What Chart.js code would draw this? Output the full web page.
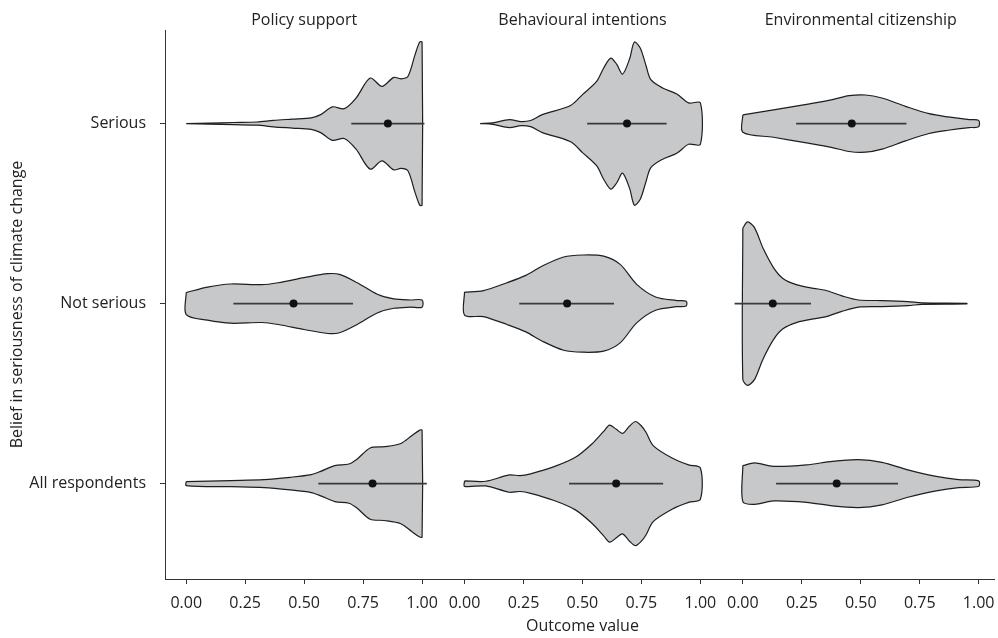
<!DOCTYPE html>
<html>
<head>
<meta charset="utf-8">
<script src="https://cdn.jsdelivr.net/npm/chart.js@4.4.1/dist/chart.umd.min.js"></script>
<style>
  html, body { margin: 0; padding: 0; background: #fff; }
  #wrap { width: 998px; height: 638px; position: relative; }
</style>
</head>
<body>
<div id="wrap"><canvas id="violinChart"></canvas></div>
<script>
// facets and groups
const panels = ['Policy support', 'Behavioural intentions', 'Environmental citizenship'];
const groups = ['Serious', 'Not serious', 'All respondents'];
const xTicks = [0, 0.25, 0.5, 0.75, 1];

// violin outlines: [outcome value, half width of the density]
const policySerious = [[0.00,0],[0.10,0.003],[0.20,0.006],[0.30,0.009],[0.37,0.018],[0.45,0.025],[0.53,0.032],[0.57,0.05],[0.62,0.093],[0.67,0.083],[0.72,0.142],[0.78,0.253],[0.83,0.207],[0.88,0.257],[0.91,0.249],[0.94,0.262],[0.97,0.382],[0.99,0.453],[1.00,0.453]];
const policyNotSerious = [[0.00,0.061],[0.09,0.092],[0.19,0.109],[0.32,0.105],[0.39,0.116],[0.50,0.144],[0.60,0.166],[0.65,0.162],[0.725,0.116],[0.81,0.052],[0.88,0.026],[0.95,0.02],[1.00,0.02]];
const policyAll = [[0.00,0.011],[0.19,0.017],[0.33,0.022],[0.44,0.035],[0.53,0.05],[0.57,0.068],[0.63,0.1],[0.69,0.109],[0.725,0.137],[0.78,0.198],[0.84,0.205],[0.91,0.223],[0.956,0.266],[0.99,0.297],[1.00,0.297]];

const behavSerious = [[0.066,0],[0.12,0.004],[0.19,0.022],[0.24,0.011],[0.28,0.017],[0.33,0.05],[0.45,0.101],[0.50,0.161],[0.56,0.234],[0.59,0.309],[0.62,0.364],[0.645,0.33],[0.67,0.275],[0.70,0.36],[0.72,0.453],[0.745,0.42],[0.77,0.32],[0.79,0.244],[0.84,0.198],[0.90,0.165],[0.95,0.115],[1.00,0.115]];
const behavNotSerious = [[0.00,0.064],[0.08,0.072],[0.18,0.116],[0.26,0.157],[0.33,0.209],[0.42,0.259],[0.50,0.27],[0.59,0.264],[0.66,0.218],[0.73,0.107],[0.81,0.037],[0.90,0.017],[0.94,0.013]];
const behavAll = [[0.00,0.015],[0.09,0.013],[0.19,0.048],[0.235,0.044],[0.28,0.054],[0.38,0.094],[0.47,0.146],[0.54,0.22],[0.59,0.29],[0.615,0.325],[0.645,0.3],[0.67,0.279],[0.70,0.32],[0.725,0.345],[0.75,0.32],[0.77,0.284],[0.80,0.211],[0.88,0.142],[0.95,0.104],[1.00,0.087]];

const envSerious = [[0.00,0.048],[0.13,0.076],[0.27,0.107],[0.38,0.133],[0.45,0.155],[0.52,0.159],[0.59,0.142],[0.69,0.096],[0.79,0.055],[0.87,0.037],[0.96,0.022],[1.00,0.018]];
const envNotSerious = [[0.00,0.42],[0.02,0.454],[0.05,0.421],[0.085,0.31],[0.13,0.2],[0.17,0.14],[0.23,0.104],[0.30,0.085],[0.35,0.074],[0.42,0.043],[0.49,0.02],[0.59,0.017],[0.70,0.011],[0.76,0.004],[0.95,0.002]];
const envAll = [[0.00,0.1],[0.05,0.115],[0.13,0.096],[0.27,0.104],[0.38,0.124],[0.49,0.133],[0.59,0.118],[0.70,0.076],[0.82,0.04],[0.915,0.022],[1.00,0.015]];

// medians and interval ends (Serious, Not serious, All respondents)
const policyMedian = [0.855, 0.455, 0.79];
const policyLow = [0.70, 0.20, 0.56];
const policyHigh = [1.01, 0.707, 1.02];
const behavMedian = [0.689, 0.435, 0.643];
const behavLow = [0.52, 0.232, 0.443];
const behavHigh = [0.857, 0.634, 0.842];
const envMedian = [0.462, 0.127, 0.398];
const envLow = [0.226, -0.035, 0.141];
const envHigh = [0.694, 0.289, 0.658];

const violins = [
  [policySerious, policyNotSerious, policyAll],
  [behavSerious, behavNotSerious, behavAll],
  [envSerious, envNotSerious, envAll]
];
const medians = [policyMedian, behavMedian, envMedian];
const lows = [policyLow, behavLow, envLow];
const highs = [policyHigh, behavHigh, envHigh];

const FONT = '"Open Sans", "DejaVu Sans", sans-serif';
const TEXT = '#222';
const AXIS = '#333';

function outline(pts, yc) {
  const upper = pts.map(p => ({x: p[0], y: yc + p[1]}));
  const lower = pts.slice().reverse().map(p => ({x: p[0], y: yc - p[1]}));
  return upper.concat(lower, [upper[0]]);
}

var datasets = [];
panels.forEach(function(name, p) {
  const axisId = 'x' + (p + 1);
  groups.forEach(function(g, i) {
    const yc = groups.length - i;
    datasets.push({
      xAxisID: axisId,
      data: outline(violins[p][i], yc),
      fill: 'shape',
      backgroundColor: '#c7c8ca',
      borderColor: '#1e1e1e',
      borderWidth: 1.2,
      pointRadius: 0,
      tension: 0.3,
      order: 3
    });
    datasets.push({
      xAxisID: axisId,
      data: [{x: lows[p][i], y: yc}, {x: highs[p][i], y: yc}],
      borderColor: '#3a3a3a',
      borderWidth: 1.6,
      pointRadius: 0,
      fill: false,
      order: 2
    });
    datasets.push({
      xAxisID: axisId,
      data: [{x: medians[p][i], y: yc}],
      showLine: false,
      pointRadius: 4,
      pointBackgroundColor: '#111',
      pointBorderWidth: 0,
      order: 1
    });
  });
});

// panel ranges, weights keep the same px per unit
const ranges = [[-0.09, 1.09], [-0.09, 1.09], [-0.09, 1.065]];

function xScale(p) {
  return {
    type: 'linear',
    axis: 'x',
    position: 'bottom',
    stack: 'panels',
    stackWeight: ranges[p][1] - ranges[p][0],
    min: ranges[p][0],
    max: ranges[p][1],
    afterBuildTicks: function(scale) { scale.ticks = xTicks.map(v => ({value: v})); },
    afterFit: function(scale) {
      scale.paddingLeft = 0;
      scale.paddingRight = 0;
      scale.height = 57;
    },
    ticks: {
      autoSkip: false, maxRotation: 0, padding: 10,
      color: TEXT, font: {family: FONT, size: 16},
      callback: v => Number(v).toFixed(2)
    },
    grid: {drawOnChartArea: false, drawTicks: true, tickLength: 5, color: AXIS},
    border: {display: true, color: AXIS, width: 1},
    title: {
      display: p === 1, text: 'Outcome value', color: TEXT,
      font: {family: FONT, size: 16}, padding: {top: 4, bottom: 0}
    }
  };
}

const panelTitles = {
  id: 'panelTitles',
  afterDraw(chart) {
    const ctx = chart.ctx;
    ctx.save();
    ctx.font = '16px ' + FONT;
    ctx.fillStyle = TEXT;
    ctx.textAlign = 'center';
    ctx.textBaseline = 'middle';
    panels.forEach(function(name, p) {
      const sc = chart.scales['x' + (p + 1)];
      ctx.fillText(name, sc.getPixelForValue(0.5), 20);
    });
    ctx.restore();
  }
};

const CHART = document.getElementById('violinChart');
new Chart(CHART, {
  type: 'line',
  data: {datasets: datasets},
  plugins: [panelTitles],
  options: {
    responsive: true,
    maintainAspectRatio: false,
    animation: false,
    layout: {padding: {top: 30, right: 0, bottom: 2, left: 0}},
    plugins: {legend: {display: false}, tooltip: {enabled: false}},
    scales: {
      x1: xScale(0),
      x2: xScale(1),
      x3: xScale(2),
      y: {
        type: 'linear',
        min: 0.47,
        max: 3.52,
        afterBuildTicks: function(scale) { scale.ticks = [3, 2, 1].map(v => ({value: v})); },
        afterFit: function(scale) { scale.width = 165; },
        ticks: {
          autoSkip: false, padding: 14, color: TEXT,
          font: {family: FONT, size: 16},
          callback: v => groups[groups.length - v]
        },
        grid: {drawOnChartArea: false, drawTicks: true, tickLength: 5, color: AXIS},
        border: {display: true, color: AXIS, width: 1},
        title: {
          display: true, text: 'Belief in seriousness of climate change', color: TEXT,
          font: {family: FONT, size: 16}, padding: {top: 8, bottom: 0}
        }
      }
    }
  }
});
</script>
</body>
</html>
